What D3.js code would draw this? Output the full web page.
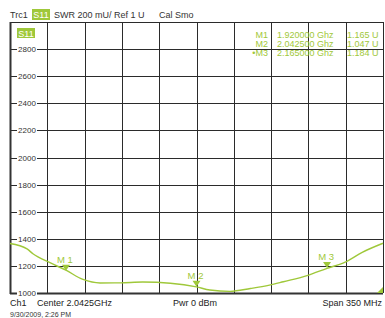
<!DOCTYPE html>
<html>
<head>
    <title>S11 SWR</title>
    <script src="https://d3js.org/d3.v7.min.js"></script>
    <style>
        body { margin: 0; background: #fff; }
        svg text { font-family: "Liberation Sans", Arial, sans-serif; }
    </style>
</head>
<body>
<svg width="385" height="318"></svg>
<script>

    // trace data (GHz, SWR in mU)
    var freqs = [1.8675, 1.8835, 1.889, 1.905, 1.920, 1.936, 1.952, 1.971, 1.992, 2.018,
                 2.0425, 2.055, 2.074, 2.093, 2.111, 2.124, 2.147, 2.165, 2.182, 2.198, 2.2175];
    var swr   = [1365, 1325, 1290, 1224, 1168, 1100, 1074, 1075, 1081, 1072,
                 1045, 1022, 1012, 1033, 1058, 1083, 1130, 1182, 1228, 1300, 1367];

    var yTicks = [1000, 1200, 1400, 1600, 1800, 2000, 2200, 2400, 2600, 2800];

    var markerNames = ["M1", "M2", "M3"];
    var markerFreqs = [1.920, 2.0425, 2.165];
    var markerVals  = [1165, 1047, 1184];

    var green = "#9fc83a";

    var svg = d3.select("svg");

    var pl = 10, pr = 383, pt = 22, pb = 293;

    var x = d3.scaleLinear().domain([1.8675, 2.2175]).range([pl, pr]);
    var y = d3.scaleLinear().domain([1000, 3000]).range([pb, pt]);

    // grid
    var grid = svg.append("g").attr("stroke", "#2b2b2b").attr("stroke-width", 1);
    d3.range(0, 11).forEach(function (i) {
        var v = 1000 + i * 200;
        grid.append("line")
            .attr("x1", pl).attr("x2", pr)
            .attr("y1", Math.round(y(v)) + 0.5).attr("y2", Math.round(y(v)) + 0.5);
        var f = 1.8675 + i * 0.035;
        grid.append("line")
            .attr("y1", pt).attr("y2", pb)
            .attr("x1", Math.round(x(f)) + 0.5).attr("x2", Math.round(x(f)) + 0.5);
    });
    // heavier frame on left and bottom
    svg.append("line").attr("x1", pl + 0.5).attr("x2", pl + 0.5)
        .attr("y1", pt).attr("y2", pb + 1)
        .attr("stroke", "#333").attr("stroke-width", 2);
    svg.append("line").attr("x1", pl).attr("x2", pr)
        .attr("y1", pb + 0.5).attr("y2", pb + 0.5)
        .attr("stroke", "#333").attr("stroke-width", 2);

    // y tick labels with white background
    var lab = svg.append("g").selectAll("g").data(yTicks).enter().append("g")
        .attr("transform", function (d) { return "translate(27," + (Math.round(y(d)) + 0.5) + ")"; });
    lab.append("rect").attr("x", -10).attr("y", -4).attr("width", 20).attr("height", 8)
        .attr("fill", "#fff");
    lab.append("text").attr("text-anchor", "middle").attr("dy", "0.35em")
        .attr("font-size", 8).attr("fill", "#333")
        .text(function (d) { return d; });

    // S11 tag inside plot
    svg.append("rect").attr("x", 17).attr("y", 28).attr("width", 18).attr("height", 10)
        .attr("fill", green);
    svg.append("text").attr("x", 26).attr("y", 36.5).attr("text-anchor", "middle")
        .attr("font-size", 9).attr("fill", "#fff").text("S11");

    // trace
    var pts = freqs.map(function (f, i) { return [f, swr[i]]; });
    svg.append("path").datum(pts)
        .attr("fill", "none").attr("stroke", green).attr("stroke-width", 1.4)
        .attr("d", d3.line()
            .x(function (d) { return x(d[0]); })
            .y(function (d) { return y(d[1]); })
            .curve(d3.curveMonotoneX));

    // markers
    var mk = svg.append("g").selectAll("g").data(markerFreqs).enter().append("g")
        .attr("transform", function (d, i) { return "translate(" + x(d) + "," + y(markerVals[i]) + ")"; });
    mk.append("path").attr("d", "M-4,-6L4,-6L0,0Z").attr("fill", green);
    mk.append("text").attr("x", -1).attr("y", -8).attr("text-anchor", "middle")
        .attr("font-size", 9.5).attr("fill", green)
        .text(function (d, i) { return "M " + (i + 1); });

    // out of range corner triangle
    svg.append("path")
        .attr("d", "M" + (pr - 6) + "," + pb + "L" + pr + "," + pb + "L" + pr + "," + (pb - 6) + "Z")
        .attr("fill", green);

    // marker readout
    var ro = svg.append("g").attr("font-size", 9).attr("fill", green);
    markerNames.forEach(function (n, i) {
        var by = 37.5 + i * 9.3;
        ro.append("text").attr("x", 268).attr("y", by).attr("text-anchor", "end")
            .text((i == 2 ? "\u2022" : "") + n);
        ro.append("text").attr("x", 277).attr("y", by)
            .text(markerFreqs[i].toFixed(6) + " Ghz");
        ro.append("text").attr("x", 347).attr("y", by)
            .text((markerVals[i] / 1000).toFixed(3) + " U");
    });

    // header
    var hd = svg.append("g").attr("font-size", 9).attr("fill", "#333");
    hd.append("text").attr("x", 10).attr("y", 18).text("Trc1");
    hd.append("rect").attr("x", 32).attr("y", 9).attr("width", 18).attr("height", 11).attr("fill", green);
    hd.append("text").attr("x", 41).attr("y", 18).attr("text-anchor", "middle")
        .attr("fill", "#fff").text("S11");
    hd.append("text").attr("x", 54).attr("y", 18).text("SWR 200 mU/ Ref 1 U");
    hd.append("text").attr("x", 159).attr("y", 18).text("Cal Smo");

    // footer
    var ft = svg.append("g").attr("font-size", 9).attr("fill", "#222");
    ft.append("text").attr("x", 10).attr("y", 306).text("Ch1");
    ft.append("text").attr("x", 37).attr("y", 306).text("Center 2.0425GHz");
    ft.append("text").attr("x", 173).attr("y", 306).text("Pwr 0 dBm");
    ft.append("text").attr("x", 382).attr("y", 306).attr("text-anchor", "end").text("Span 350 MHz");
    svg.append("text").attr("x", 10).attr("y", 317).attr("font-size", 7).attr("fill", "#333")
        .text("9/30/2009, 2:26 PM");

</script>
</body>
</html>
